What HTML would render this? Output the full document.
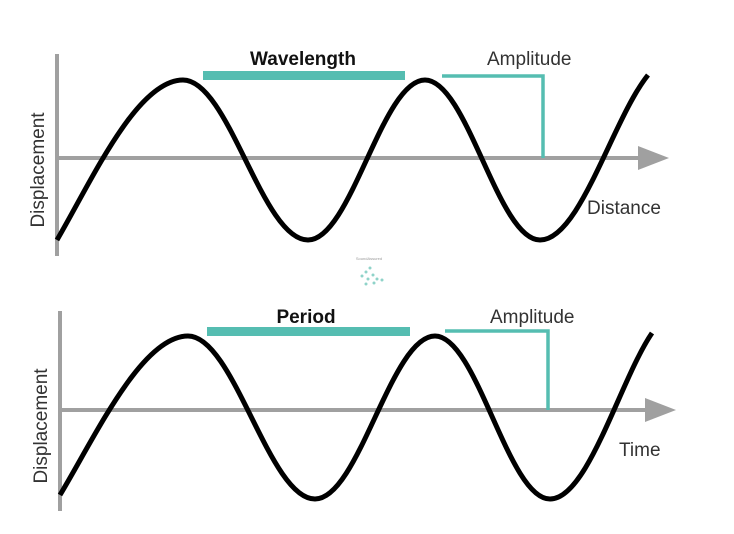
<!DOCTYPE html>
<html><head><meta charset="utf-8"><style>
html,body{margin:0;padding:0;background:#fff;width:734px;height:534px;overflow:hidden}
svg{display:block}
text{font-family:"Liberation Sans",sans-serif}
</style></head><body>
<svg width="734" height="534" viewBox="0 0 734 534">
<!-- top chart -->
<line x1="57" y1="54" x2="57" y2="256" stroke="#a0a0a0" stroke-width="4"/>
<line x1="57" y1="158" x2="645" y2="158" stroke="#a0a0a0" stroke-width="4"/>
<polygon points="638,146 669,158 638,170" fill="#a0a0a0"/>
<path d="M57,240 C92,180 137,80 183,80 C229,80 262,240 308,240 C351,240 382,80 425,80 C467,80 498,240 540,240 C580,240 612,120 648,75" fill="none" stroke="#000" stroke-width="5" stroke-linejoin="round"/>
<rect x="203" y="71" width="202" height="9" fill="#55bdb1"/>
<polyline points="442,76 543,76 543,158" fill="none" stroke="#55bdb1" stroke-width="3.5"/>
<text x="303" y="65" font-size="19" font-weight="bold" text-anchor="middle" fill="#111">Wavelength</text>
<text x="487" y="65" font-size="19" fill="#333">Amplitude</text>
<text x="587" y="214" font-size="19" fill="#333">Distance</text>
<text transform="translate(44,170) rotate(-90)" font-size="19" text-anchor="middle" fill="#333">Displacement</text>
<text x="369" y="260" font-size="4" text-anchor="middle" fill="#999">SoundAssured</text>
<g fill="#8fd3c9"><circle cx="362" cy="276" r="1.5"/><circle cx="366" cy="272" r="1.5"/><circle cx="370" cy="268" r="1.5"/><circle cx="368" cy="279" r="1.5"/><circle cx="373" cy="275" r="1.5"/><circle cx="377" cy="279" r="1.5"/><circle cx="382" cy="280" r="1.5"/><circle cx="374" cy="283" r="1.5"/><circle cx="366" cy="284" r="1.5"/></g>
<!-- bottom chart -->
<line x1="60" y1="311" x2="60" y2="511" stroke="#a0a0a0" stroke-width="4"/>
<line x1="60" y1="410" x2="652" y2="410" stroke="#a0a0a0" stroke-width="4"/>
<polygon points="645,398 676,410 645,422" fill="#a0a0a0"/>
<path d="M60,495 C96,435 142,336 188,336 C234,336 269,499 315,499 C359,499 391,336 435,336 C477,336 508,499 550,499 C588,499 620,380 652,333" fill="none" stroke="#000" stroke-width="5" stroke-linejoin="round"/>
<rect x="207" y="327" width="203" height="9" fill="#55bdb1"/>
<polyline points="445,331 548,331 548,410" fill="none" stroke="#55bdb1" stroke-width="3.5"/>
<text x="306" y="323" font-size="19" font-weight="bold" text-anchor="middle" fill="#111">Period</text>
<text x="490" y="323" font-size="19" fill="#333">Amplitude</text>
<text x="619" y="456" font-size="19" fill="#333">Time</text>
<text transform="translate(47,426) rotate(-90)" font-size="19" text-anchor="middle" fill="#333">Displacement</text>
</svg>
</body></html>
